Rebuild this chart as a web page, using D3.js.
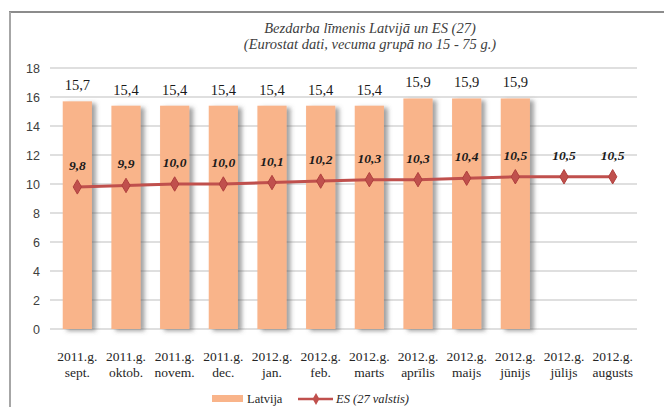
<!DOCTYPE html>
<html><head><meta charset="utf-8">
<script src="https://cdn.jsdelivr.net/npm/d3@7"></script>
<style>body{margin:0;background:#fff}svg{display:block}.sf{font-family:"Liberation Serif","Times New Roman",serif}</style>
</head><body>
<script>
const categoriesYear = ["2011.g.","2011.g.","2011.g.","2011.g.","2012.g.","2012.g.","2012.g.","2012.g.","2012.g.","2012.g.","2012.g.","2012.g."];
const categoriesMonth = ["sept.","oktob.","novem.","dec.","jan.","feb.","marts","aprīlis","maijs","jūnijs","jūlijs","augusts"];
const latvija = [15.7,15.4,15.4,15.4,15.4,15.4,15.4,15.9,15.9,15.9,null,null];
const es27 = [9.8,9.9,10.0,10.0,10.1,10.2,10.3,10.3,10.4,10.5,10.5,10.5];
const yTicks = [0,2,4,6,8,10,12,14,16,18];
const titleLines = ["Bezdarba līmenis Latvijā un ES (27)","(Eurostat dati, vecuma grupā no 15 - 75 g.)"];
const seriesNames = ["Latvija","ES (27 valstis)"];

const W=664,H=407;
const svg=d3.select("body").append("svg").attr("width",W).attr("height",H);
const defs=svg.append("defs");
const f=defs.append("filter").attr("id","sh").attr("x","-30%").attr("y","-10%").attr("width","180%").attr("height","130%");
f.append("feDropShadow").attr("dx",4).attr("dy",2).attr("stdDeviation",2).attr("flood-color","#555").attr("flood-opacity",0.55);

// frame
svg.append("line").attr("x1",9).attr("x2",W).attr("y1",12).attr("y2",12).attr("stroke","#8c8c8c").attr("stroke-width",2);
svg.append("line").attr("x1",10).attr("x2",10).attr("y1",12).attr("y2",H).attr("stroke","#a6a6a6").attr("stroke-width",2);

const x=d3.scaleBand().domain(d3.range(12)).range([53,637]).paddingInner(0.4).paddingOuter(0.2);
const xc=i=>x(i)+x.bandwidth()/2;
const y=d3.scaleLinear().domain([0,18]).range([329,68]);

// title
svg.append("g").selectAll("text").data(titleLines).join("text").attr("class","sf")
  .attr("x",370).attr("y",(d,i)=>33+i*16).attr("text-anchor","middle")
  .attr("font-style","italic").attr("font-size",14.5).attr("fill","#404040").text(d=>d);

// grid
svg.append("g").selectAll("line").data(yTicks).join("line")
  .attr("x1",50).attr("x2",637).attr("y1",d=>y(d)).attr("y2",d=>y(d))
  .attr("stroke","#bfbfbf").attr("stroke-width",1.2);

// y axis labels
const ya=svg.append("g").attr("transform","translate(50,0)").call(d3.axisLeft(y).tickValues(yTicks).tickSize(0).tickPadding(10).tickFormat(d3.format("d")));
ya.select(".domain").remove();
ya.selectAll("text").attr("font-family","'Liberation Sans',Arial,sans-serif").attr("font-size",12.5).attr("fill","#404040");

// bars
const bi=d3.range(12).filter(i=>latvija[i]!=null);
svg.append("g").selectAll("rect").data(bi).join("rect")
  .attr("x",i=>x(i)).attr("width",x.bandwidth()).attr("y",i=>y(latvija[i])).attr("height",i=>y(0)-y(latvija[i]))
  .attr("fill","#f9b48a").attr("filter","url(#sh)");
svg.append("g").selectAll("text").data(bi).join("text").attr("class","sf")
  .attr("x",xc).attr("y",i=>y(latvija[i])-11).attr("text-anchor","middle")
  .attr("font-size",14.5).attr("fill","#1a1a1a").text(i=>d3.format(".1f")(latvija[i]).replace(".",","));

// line
const line=d3.line().x((d,i)=>xc(i)).y(d=>y(d));
svg.append("path").datum(es27).attr("d",line).attr("fill","none").attr("stroke","#c0504d").attr("stroke-width",3);
const diamond=d3.symbol().type(d3.symbolDiamond).size(60);
svg.append("g").selectAll("path").data(es27).join("path")
  .attr("transform",(d,i)=>`translate(${xc(i)},${y(d)})`).attr("d",diamond).attr("fill","#c0504d").attr("stroke","#b0403d");
svg.append("g").selectAll("text").data(es27).join("text").attr("class","sf")
  .attr("x",(d,i)=>xc(i)).attr("y",d=>y(d)-17).attr("text-anchor","middle")
  .attr("font-style","italic").attr("font-weight","bold").attr("font-size",13.5).attr("fill","#1a1a1a")
  .text(d=>d3.format(".1f")(d).replace(".",","));

// x labels
const xl=svg.append("g").attr("class","sf").attr("font-size",13.5).attr("fill","#262626").attr("text-anchor","middle");
xl.selectAll(".yr").data(categoriesYear).join("text").attr("x",(d,i)=>xc(i)).attr("y",361).text(d=>d);
xl.selectAll(".mo").data(categoriesMonth).join("text").attr("x",(d,i)=>xc(i)).attr("y",377).text(d=>d);

// legend
const lg=svg.append("g");
lg.append("rect").attr("x",212).attr("y",395).attr("width",31).attr("height",7).attr("fill","#f9b48a");
lg.append("text").attr("class","sf").attr("x",247).attr("y",403).attr("font-size",12.5).attr("fill","#262626").text(seriesNames[0]);
lg.append("line").attr("x1",298).attr("x2",333).attr("y1",399).attr("y2",399).attr("stroke","#c0504d").attr("stroke-width",2.5);
lg.append("path").attr("transform","translate(316,399)").attr("d",d3.symbol().type(d3.symbolDiamond).size(40)).attr("fill","#c0504d");
lg.append("text").attr("class","sf").attr("x",336).attr("y",403).attr("font-style","italic").attr("font-size",12.5).attr("fill","#262626").text(seriesNames[1]);
</script>
</body></html>
